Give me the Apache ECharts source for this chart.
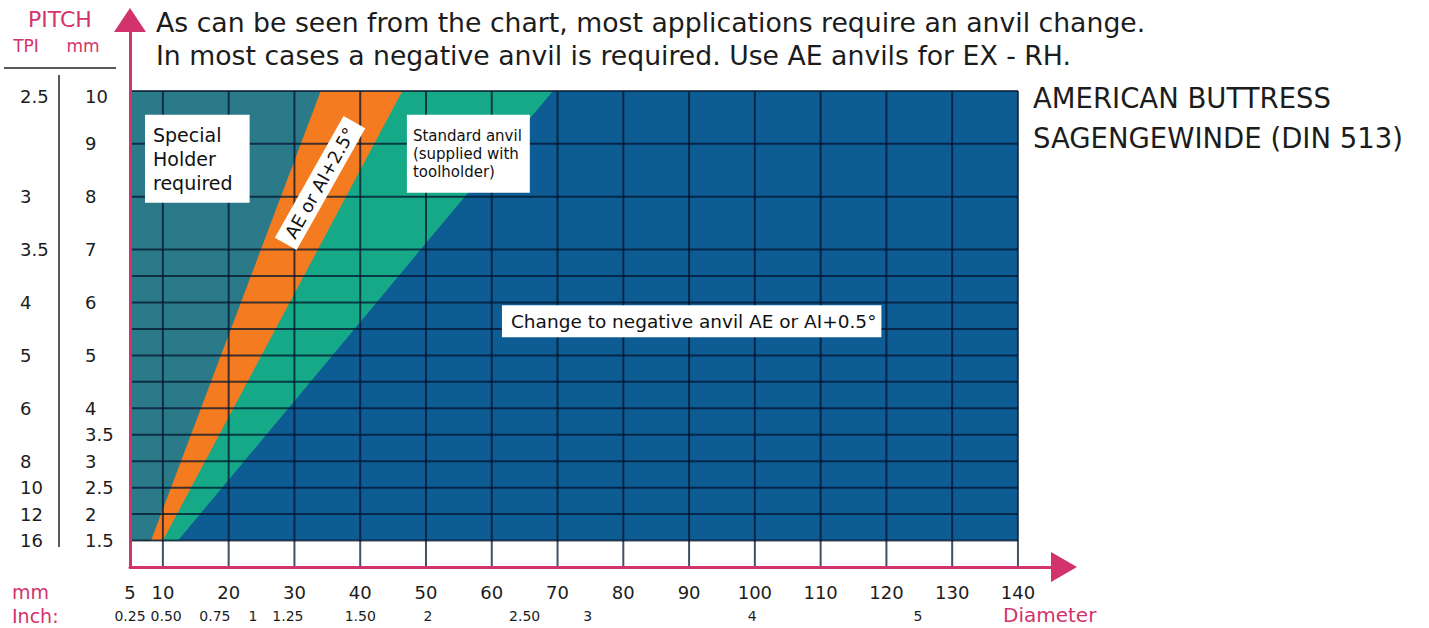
<!DOCTYPE html>
<html>
<head>
<meta charset="utf-8">
<script src="https://cdn.jsdelivr.net/npm/echarts@6/dist/echarts.min.js"></script>
<style>
  html, body { margin: 0; padding: 0; background: #ffffff; }
  #chart { width: 1429px; height: 628px; }
</style>
</head>
<body>
<div id="chart"></div>
<script>
// ---- data ----
const diameterTicks = [5, 10, 20, 30, 40, 50, 60, 70, 80, 90, 100, 110, 120, 130, 140];
const inchLabels = ["0.25", "0.50", "0.75", "1", "1.25", "1.50", "2", "2.50", "3", "4", "5"];
const inchAtDiameter = [5, 10.5, 17.9, 23.7, 29.0, 40.0, 50.3, 65.0, 74.6, 99.6, 124.8];

const pitchMm = [10, 9, 8, 7, 6, 5, 4, 3.5, 3, 2.5, 2, 1.5];
const tpiLabels = ["2.5", "3", "3.5", "4", "5", "6", "8", "10", "12", "16"];
const tpiAtPitch = [10, 8, 7, 6, 5, 4, 3, 2.5, 2, 1.5];

const gridPitch = [10, 9, 8, 7, 6.5, 6, 5.5, 5, 4.5, 4, 3.5, 3, 2.5, 2, 1.5];
const gridDiameter = [10, 20, 30, 40, 50, 60, 70, 80, 90, 100, 110, 120, 130, 140];

const pitchRange = [1.5, 10];
const diameterRange = [5, 140];

// each zone fills from the left edge up to its right boundary line,
// given as the diameter where that line meets pitch 1.5 and pitch 10
const zoneNames = ["Change to negative anvil", "Standard anvil", "AE or AI+2.5°", "Special holder"];
const zoneEdgeLow = [140, 12.3, 10.0, 8.2];
const zoneEdgeHigh = [140, 69.3, 46.4, 34.0];

const noteTexts = [
  "Special\nHolder\nrequired",
  "AE or AI+2.5°",
  "Standard anvil\n(supplied with\ntoolholder)",
  "Change to negative anvil AE or AI+0.5°",
];

// ---- look ----
const colors = {
  pink: "#d2336c",
  text: "#1c1c1c",
  zones: ["#0d5c93", "#16a988", "#f47b20", "#2b7a89"],
  grid: "rgba(4, 22, 45, 0.75)",
};
const FONT = '"DejaVu Sans", sans-serif';

// where each note box sits (data coords) and how it is drawn
const noteLayout = [
  { at: [7.28, 9.55], align: "left", vAlign: "top", size: 19, lh: 24, pad: [8, 17, 8, 8], rot: 0 },
  { at: [33.9, 8.26], align: "center", vAlign: "middle", size: 18, lh: 20, pad: [3, 8, 2, 8], rot: 60.6 },
  { at: [47.1, 9.55], align: "left", vAlign: "top", size: 15, lh: 18, pad: [12, 8, 12, 6], rot: 0 },
  { at: [61.55, 5.95], align: "left", vAlign: "top", size: 18.5, lh: 20, pad: [6, 5, 6, 9], rot: 0 },
];

const chart = echarts.init(document.getElementById("chart"), null, { renderer: "svg" });

const option = {
  animation: false,
  title: [
    {
      text: "As can be seen from the chart, most applications require an anvil change.\nIn most cases a negative anvil is required. Use AE anvils for EX - RH.",
      left: 156,
      top: 6,
      padding: 0,
      textStyle: { fontFamily: FONT, fontSize: 26.7, fontWeight: "normal", lineHeight: 33, color: colors.text },
    },
    {
      text: "AMERICAN BUTTRESS\nSAGENGEWINDE (DIN 513)",
      left: 1033,
      top: 78,
      padding: 0,
      textStyle: { fontFamily: FONT, fontSize: 27.5, fontWeight: "normal", lineHeight: 40, color: colors.text },
    },
  ],
  grid: { left: 130, right: 365, top: 20, bottom: 61, containLabel: false },
  xAxis: [
    {
      type: "value",
      min: 5,
      max: 147,
      z: 5,
      splitLine: { show: false },
      axisTick: { show: false },
      axisLine: {
        onZero: false,
        symbol: ["none", "triangle"],
        symbolSize: [30, 26],
        lineStyle: { color: colors.pink, width: 3 },
      },
      axisLabel: {
        customValues: diameterTicks,
        margin: 16,
        color: colors.text,
        fontFamily: FONT,
        fontSize: 18,
      },
    },
    {
      type: "value",
      position: "bottom",
      min: 5,
      max: 147,
      axisLine: { show: false },
      axisTick: { show: false },
      splitLine: { show: false },
      axisLabel: {
        customValues: inchAtDiameter,
        formatter: (v) => inchLabels[inchAtDiameter.indexOf(v)] ?? "",
        margin: 42,
        color: colors.text,
        fontFamily: FONT,
        fontSize: 14,
      },
    },
  ],
  yAxis: [
    {
      type: "value",
      position: "left",
      min: 1,
      max: 11.34,
      z: 5,
      splitLine: { show: false },
      axisTick: { show: false },
      axisLine: {
        onZero: false,
        symbol: ["none", "triangle"],
        symbolSize: [32, 24],
        lineStyle: { color: colors.pink, width: 3 },
      },
      axisLabel: {
        customValues: pitchMm,
        align: "left",
        margin: 45,
        color: colors.text,
        fontFamily: FONT,
        fontSize: 18,
        formatter: (v) => (v === pitchRange[1] ? "{top|" + v + "}" : String(v)),
        rich: { top: { padding: [12, 0, 0, 0], fontFamily: FONT, fontSize: 18, color: colors.text } },
      },
    },
    {
      type: "value",
      position: "left",
      offset: 0,
      min: 1,
      max: 11.34,
      axisLine: { show: false },
      axisTick: { show: false },
      splitLine: { show: false },
      axisLabel: {
        customValues: tpiAtPitch,
        align: "left",
        margin: 110,
        color: colors.text,
        fontFamily: FONT,
        fontSize: 18,
        formatter: (v) => {
          const t = tpiLabels[tpiAtPitch.indexOf(v)] ?? "";
          return v === pitchRange[1] ? "{top|" + t + "}" : t;
        },
        rich: { top: { padding: [12, 0, 0, 0], fontFamily: FONT, fontSize: 18, color: colors.text } },
      },
    },
  ],
  graphic: [
    { type: "text", x: 60, y: 19, style: { text: "PITCH", font: "22px " + FONT, fill: colors.pink, align: "center", verticalAlign: "middle" } },
    { type: "text", x: 26, y: 46, style: { text: "TPI", font: "17px " + FONT, fill: colors.pink, align: "center", verticalAlign: "middle" } },
    { type: "text", x: 83, y: 46, style: { text: "mm", font: "17px " + FONT, fill: colors.pink, align: "center", verticalAlign: "middle" } },
    { type: "line", shape: { x1: 4, y1: 68, x2: 116, y2: 68 }, style: { stroke: "#222", lineWidth: 1.5 } },
    { type: "line", shape: { x1: 59, y1: 75, x2: 59, y2: 547 }, style: { stroke: "#222", lineWidth: 1.5 } },
    { type: "text", x: 12, y: 592, style: { text: "mm", font: "19px " + FONT, fill: colors.pink, align: "left", verticalAlign: "middle" } },
    { type: "text", x: 12, y: 616, style: { text: "Inch:", font: "19px " + FONT, fill: colors.pink, align: "left", verticalAlign: "middle" } },
    { type: "text", x: 1003, y: 615, style: { text: "Diameter", font: "20px " + FONT, fill: colors.pink, align: "left", verticalAlign: "middle" } },
  ],
  series: [
    {
      name: "zones",
      type: "custom",
      z: 1,
      silent: true,
      data: zoneNames.map((n, i) => ({ name: n, value: [zoneEdgeLow[i], zoneEdgeHigh[i]] })),
      renderItem: (params, api) => {
        const lo = api.value(0);
        const hi = api.value(1);
        const pts = [
          [diameterRange[0], pitchRange[0]],
          [lo, pitchRange[0]],
          [hi, pitchRange[1]],
          [diameterRange[0], pitchRange[1]],
        ].map((p) => api.coord(p));
        return { type: "polygon", shape: { points: pts }, style: { fill: colors.zones[params.dataIndex] } };
      },
    },
    {
      name: "pitch lines",
      type: "custom",
      z: 2,
      silent: true,
      data: gridPitch.map((p) => [diameterRange[0], p]),
      renderItem: (params, api) => {
        const a = api.coord([diameterRange[0], api.value(1)]);
        const b = api.coord([diameterRange[1], api.value(1)]);
        return { type: "line", shape: { x1: a[0], y1: a[1], x2: b[0], y2: b[1] }, style: { stroke: colors.grid, lineWidth: 2 } };
      },
    },
    {
      name: "diameter lines",
      type: "custom",
      z: 2,
      silent: true,
      data: gridDiameter.map((d) => [d, 1]),
      renderItem: (params, api) => {
        const a = api.coord([api.value(0), 1]);
        const b = api.coord([api.value(0), pitchRange[1]]);
        return { type: "line", shape: { x1: a[0], y1: a[1], x2: b[0], y2: b[1] }, style: { stroke: colors.grid, lineWidth: 2 } };
      },
    },
    {
      name: "notes",
      type: "custom",
      z: 3,
      silent: true,
      data: noteLayout.map((n) => n.at),
      renderItem: (params, api) => {
        const n = noteLayout[params.dataIndex];
        const p = api.coord([api.value(0), api.value(1)]);
        return {
          type: "text",
          x: p[0],
          y: p[1],
          rotation: (n.rot * Math.PI) / 180,
          style: {
            text: noteTexts[params.dataIndex],
            font: n.size + "px " + FONT,
            lineHeight: n.lh,
            fill: "#111",
            backgroundColor: "#ffffff",
            padding: n.pad,
            align: n.align,
            verticalAlign: n.vAlign,
          },
        };
      },
    },
  ],
};

chart.setOption(option);
window.addEventListener("resize", () => chart.resize());
</script>
</body>
</html>
